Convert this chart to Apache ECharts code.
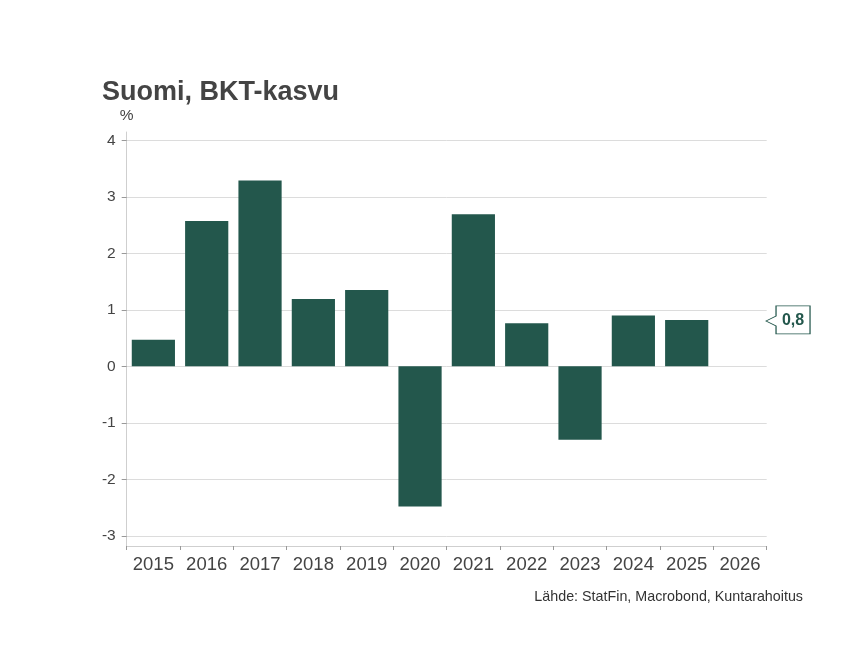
<!DOCTYPE html>
<html>
<head>
<meta charset="utf-8">
<script src="https://cdn.jsdelivr.net/npm/echarts@6/dist/echarts.min.js"></script>
<style>
  html, body { margin: 0; padding: 0; background: #fff; }
  #chart { width: 860px; height: 659px; }
</style>
</head>
<body>
<div id="chart"></div>
<script>
// vuodet ja BKT:n kasvu (%)
const years = ["2015", "2016", "2017", "2018", "2019", "2020", "2021", "2022", "2023", "2024", "2025", "2026"];
const gdpGrowth = [0.47, 2.57, 3.29, 1.19, 1.35, -2.48, 2.69, 0.76, -1.3, 0.9, 0.82, null];
const yTicks = [-3, -2, -1, 0, 1, 2, 3, 4];

const barColor = "#23574c";
const font = "Liberation Sans";

// viimeisin arvo callout-laatikkoon
const lastIdx = gdpGrowth.map((v) => v !== null).lastIndexOf(true);
const lastValue = gdpGrowth[lastIdx];

const chart = echarts.init(document.getElementById("chart"));

const option = {
  backgroundColor: "#ffffff",
  animation: false,
  textStyle: { fontFamily: font },
  title: [
    {
      text: "Suomi, BKT-kasvu",
      left: 97,
      top: 74,
      textStyle: { fontFamily: font, fontSize: 27, fontWeight: "bold", color: "#444444" },
    },
    {
      text: "Lähde: StatFin, Macrobond, Kuntarahoitus",
      right: 52,
      top: 585,
      textStyle: { fontFamily: font, fontSize: 14.3, fontWeight: "normal", color: "#333333" },
    },
  ],
  grid: [
    { left: 126.7, right: 93.3, top: 140.3, height: 395.5 }, // palkit
    { left: 126.7, right: 93.3, top: 132, height: 414 }, // akselit
  ],
  xAxis: [
    {
      type: "category",
      gridIndex: 0,
      data: years,
      show: false,
    },
    {
      type: "category",
      gridIndex: 1,
      data: years,
      boundaryGap: true,
      axisLine: { show: true, lineStyle: { color: "#cfcfcf", width: 1 } },
      axisTick: { show: true, length: 4, lineStyle: { color: "#999999" } },
      axisLabel: { interval: 0, fontSize: 18.5, color: "#444444", margin: 9, fontFamily: font },
      splitLine: { show: false },
    },
  ],
  yAxis: [
    {
      type: "value",
      gridIndex: 0,
      min: yTicks[0],
      max: yTicks[yTicks.length - 1],
      interval: 1,
      axisLine: { show: false },
      axisTick: { show: true, length: 5, lineStyle: { color: "#999999" } },
      axisLabel: { fontSize: 15.5, color: "#444444", margin: 11, fontFamily: font },
      splitLine: { show: true, lineStyle: { color: "#dcdcdc", width: 1 } },
    },
    {
      type: "value",
      gridIndex: 1,
      min: 0,
      max: 1,
      name: "%",
      nameLocation: "end",
      nameGap: 8,
      nameTextStyle: { fontSize: 15.5, color: "#444444", fontFamily: font },
      axisLine: { show: true, lineStyle: { color: "#cfcfcf", width: 1 } },
      axisTick: { show: false },
      axisLabel: { show: false },
      splitLine: { show: false },
    },
  ],
  series: [
    {
      type: "bar",
      xAxisIndex: 0,
      yAxisIndex: 0,
      data: gdpGrowth,
      barCategoryGap: "19%",
      itemStyle: { color: barColor },
      markPoint: {
        symbol: "path://M0,15 L10,10 L10,0 L44,0 L44,28 L10,28 L10,20 Z",
        symbolSize: [44, 28],
        symbolKeepAspect: false,
        symbolOffset: [48, 0],
        itemStyle: { color: "#ffffff", borderColor: barColor, borderWidth: 1 },
        label: {
          show: true,
          position: "inside",
          offset: [5, 1],
          formatter: () => lastValue.toFixed(1).replace(".", ","),
          color: barColor,
          fontSize: 16,
          fontWeight: "bold",
          fontFamily: font,
        },
        data: [{ coord: [years[years.length - 1], lastValue] }],
      },
    },
  ],
};

chart.setOption(option);
</script>
</body>
</html>
